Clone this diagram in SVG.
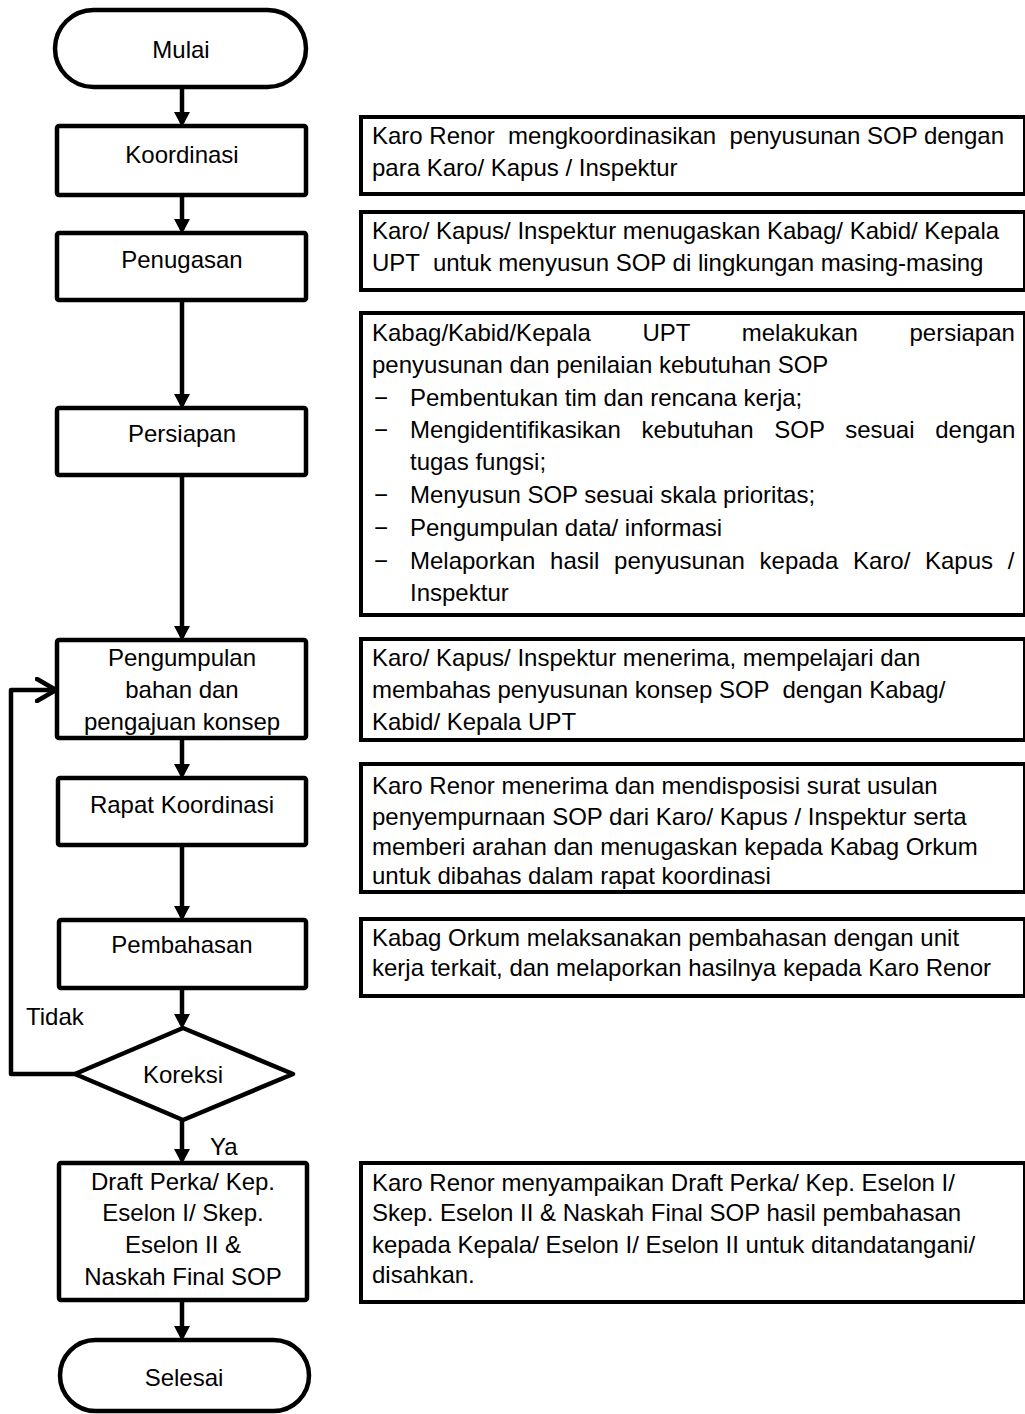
<svg xmlns="http://www.w3.org/2000/svg" width="1025" height="1414" viewBox="0 0 1025 1414">
<style>
.shape{fill:#fff;stroke:#000;stroke-width:4.5;stroke-linejoin:round}
.note{fill:#fff;stroke:#000;stroke-width:4}
.lbl{font-family:"Liberation Sans",Arial,sans-serif;font-size:24px;fill:#000;text-anchor:middle}
.txt{font-family:"Liberation Sans",Arial,sans-serif;font-size:24px;fill:#000}
.conn{fill:none;stroke:#000;stroke-width:4.5}
</style>
<defs>
<marker id="arr" viewBox="0 0 15 16" refX="11" refY="8" markerWidth="15" markerHeight="16" markerUnits="userSpaceOnUse" orient="auto">
<path d="M0,0 L15,8 L0,16 z" fill="#000"/>
</marker>
<marker id="open" viewBox="0 0 24 26" refX="21" refY="13" markerWidth="24" markerHeight="26" markerUnits="userSpaceOnUse" orient="auto">
<path d="M2,2 L21,13 L2,24" fill="none" stroke="#000" stroke-width="4.5" stroke-linecap="round" stroke-linejoin="round"/>
</marker>
</defs>

<g id="connectors">
<line class="conn" x1="182" y1="87" x2="182" y2="123" marker-end="url(#arr)"/>
<line class="conn" x1="182" y1="195" x2="182" y2="230" marker-end="url(#arr)"/>
<line class="conn" x1="182" y1="300" x2="182" y2="405" marker-end="url(#arr)"/>
<line class="conn" x1="182" y1="475" x2="182" y2="637" marker-end="url(#arr)"/>
<line class="conn" x1="182" y1="738" x2="182" y2="775" marker-end="url(#arr)"/>
<line class="conn" x1="182" y1="845" x2="182" y2="917" marker-end="url(#arr)"/>
<line class="conn" x1="182" y1="988" x2="182" y2="1025" marker-end="url(#arr)"/>
<line class="conn" x1="182" y1="1120" x2="182" y2="1160" marker-end="url(#arr)"/>
<line class="conn" x1="182" y1="1300" x2="182" y2="1337" marker-end="url(#arr)"/>
<polyline class="conn" points="76,1074 11,1074 11,690 56,690" stroke-linejoin="round" marker-end="url(#open)"/>
<text class="txt" x="26" y="1025">Tidak</text>
<text class="txt" x="210" y="1155">Ya</text>
</g>

<g id="mulai">
<rect class="shape" x="55" y="10" width="251" height="77" rx="38.5"/>
<text class="lbl" x="181" y="58">Mulai</text>
</g>
<g id="koordinasi">
<rect class="shape" x="57" y="126" width="249" height="69" rx="2"/>
<text class="lbl" x="182" y="163">Koordinasi</text>
</g>
<g id="penugasan">
<rect class="shape" x="57" y="233" width="249" height="67" rx="2"/>
<text class="lbl" x="182" y="268">Penugasan</text>
</g>
<g id="persiapan">
<rect class="shape" x="57" y="408" width="249" height="67" rx="2"/>
<text class="lbl" x="182" y="442">Persiapan</text>
</g>
<g id="pengumpulan">
<rect class="shape" x="57" y="640" width="249" height="98" rx="2"/>
<text class="lbl" x="182" y="666">Pengumpulan</text>
<text class="lbl" x="182" y="698">bahan dan</text>
<text class="lbl" x="182" y="730">pengajuan konsep</text>
</g>
<g id="rapat">
<rect class="shape" x="58" y="778" width="248" height="67" rx="2"/>
<text class="lbl" x="182" y="813">Rapat Koordinasi</text>
</g>
<g id="pembahasan">
<rect class="shape" x="59" y="920" width="247" height="68" rx="2"/>
<text class="lbl" x="182" y="953">Pembahasan</text>
</g>
<g id="koreksi">
<polygon class="shape" points="183,1028 293,1074 183,1120 75,1074"/>
<text class="lbl" x="183" y="1083">Koreksi</text>
</g>
<g id="draft">
<rect class="shape" x="59" y="1163" width="248" height="137" rx="2"/>
<text class="lbl" x="183" y="1190">Draft Perka/ Kep.</text>
<text class="lbl" x="183" y="1221">Eselon I/ Skep.</text>
<text class="lbl" x="183" y="1253">Eselon II &amp;</text>
<text class="lbl" x="183" y="1285">Naskah Final SOP</text>
</g>
<g id="selesai">
<rect class="shape" x="60" y="1340" width="249" height="71" rx="35.5"/>
<text class="lbl" x="184" y="1386">Selesai</text>
</g>

<g id="note1">
<rect class="note" x="361" y="117" width="664" height="77"/>
<text class="txt" x="372" y="144" xml:space="preserve">Karo Renor  mengkoordinasikan  penyusunan SOP dengan</text>
<text class="txt" x="372" y="176">para Karo/ Kapus / Inspektur</text>
</g>
<g id="note2">
<rect class="note" x="361" y="212" width="664" height="78"/>
<text class="txt" x="372" y="239">Karo/ Kapus/ Inspektur menugaskan Kabag/ Kabid/ Kepala</text>
<text class="txt" x="372" y="271" xml:space="preserve">UPT  untuk menyusun SOP di lingkungan masing-masing</text>
</g>
<g id="note3">
<rect class="note" x="361" y="313" width="664" height="302"/>
<text class="txt" x="372" y="341" word-spacing="45">Kabag/Kabid/Kepala UPT melakukan persiapan</text>
<text class="txt" x="372" y="373">penyusunan dan penilaian kebutuhan SOP</text>
<text class="txt" x="374" y="406">−</text>
<text class="txt" x="410" y="406">Pembentukan tim dan rencana kerja;</text>
<text class="txt" x="374" y="438">−</text>
<text class="txt" x="410" y="438" word-spacing="14">Mengidentifikasikan kebutuhan SOP sesuai dengan</text>
<text class="txt" x="410" y="470">tugas fungsi;</text>
<text class="txt" x="374" y="503">−</text>
<text class="txt" x="410" y="503">Menyusun SOP sesuai skala prioritas;</text>
<text class="txt" x="374" y="536">−</text>
<text class="txt" x="410" y="536">Pengumpulan data/ informasi</text>
<text class="txt" x="374" y="569">−</text>
<text class="txt" x="410" y="569" word-spacing="8">Melaporkan hasil penyusunan kepada Karo/ Kapus /</text>
<text class="txt" x="410" y="601">Inspektur</text>
</g>
<g id="note4">
<rect class="note" x="361" y="639" width="664" height="101"/>
<text class="txt" x="372" y="666">Karo/ Kapus/ Inspektur menerima, mempelajari dan</text>
<text class="txt" x="372" y="698" xml:space="preserve">membahas penyusunan konsep SOP  dengan Kabag/</text>
<text class="txt" x="372" y="730">Kabid/ Kepala UPT</text>
</g>
<g id="note5">
<rect class="note" x="361" y="764" width="664" height="128"/>
<text class="txt" x="372" y="794">Karo Renor menerima dan mendisposisi surat usulan</text>
<text class="txt" x="372" y="825">penyempurnaan SOP dari Karo/ Kapus / Inspektur serta</text>
<text class="txt" x="372" y="855">memberi arahan dan menugaskan kepada Kabag Orkum</text>
<text class="txt" x="372" y="884">untuk dibahas dalam rapat koordinasi</text>
</g>
<g id="note6">
<rect class="note" x="361" y="919" width="664" height="77"/>
<text class="txt" x="372" y="946">Kabag Orkum melaksanakan pembahasan dengan unit</text>
<text class="txt" x="372" y="976">kerja terkait, dan melaporkan hasilnya kepada Karo Renor</text>
</g>
<g id="note7">
<rect class="note" x="361" y="1163" width="664" height="139"/>
<text class="txt" x="372" y="1191">Karo Renor menyampaikan Draft Perka/ Kep. Eselon I/</text>
<text class="txt" x="372" y="1221">Skep. Eselon II &amp; Naskah Final SOP hasil pembahasan</text>
<text class="txt" x="372" y="1253">kepada Kepala/ Eselon I/ Eselon II untuk ditandatangani/</text>
<text class="txt" x="372" y="1283">disahkan.</text>
</g>
</svg>
